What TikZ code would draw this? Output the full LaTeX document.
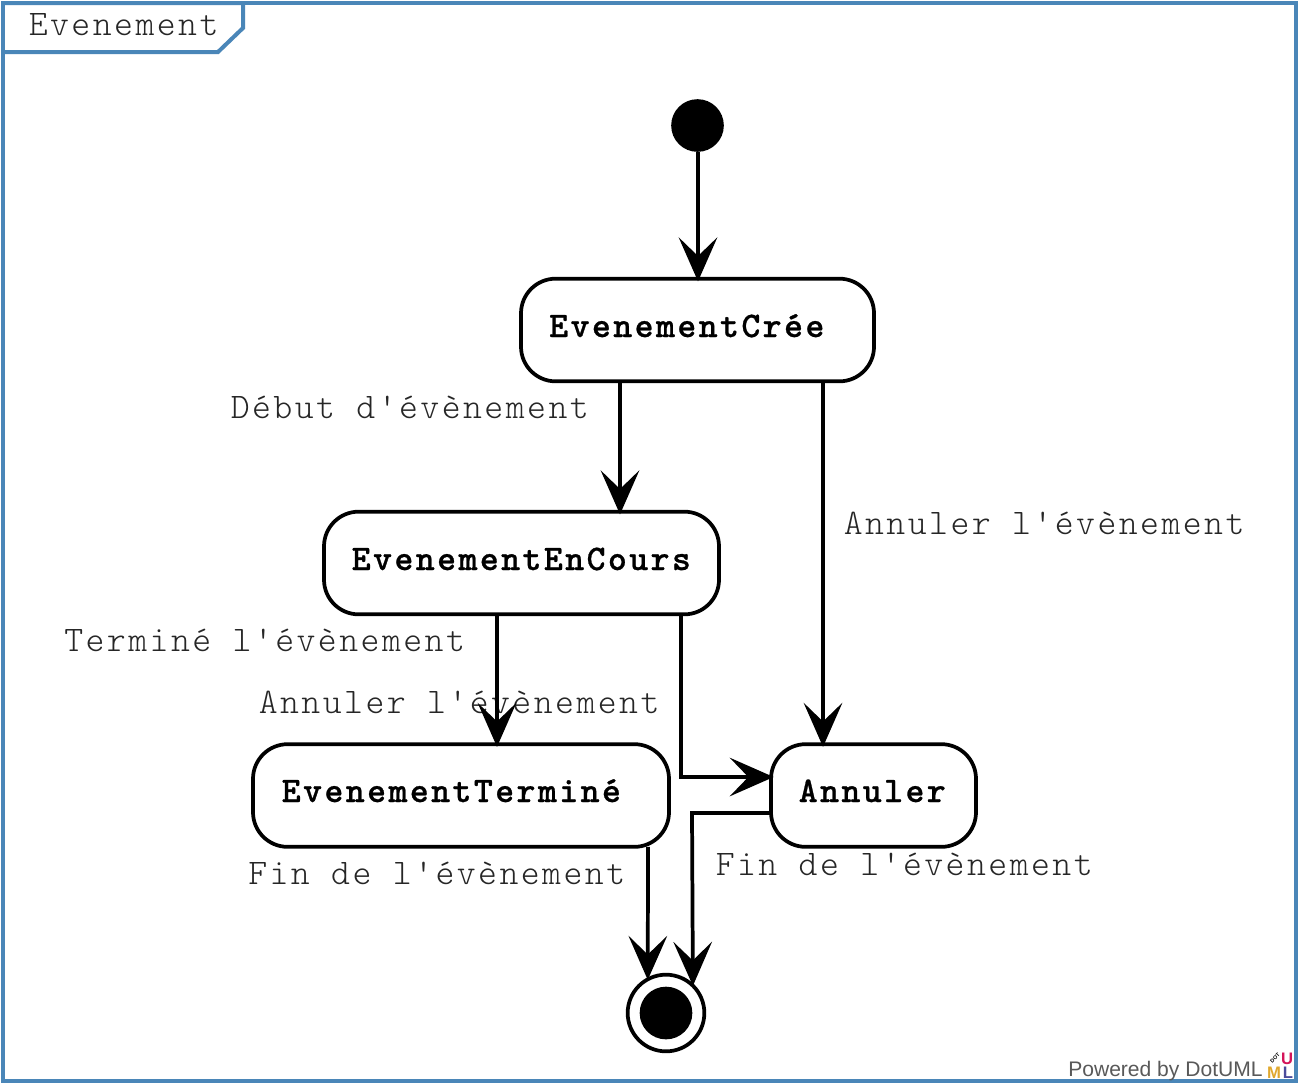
\documentclass[tikz,border=0pt]{standalone}
\usepackage{fontspec}
\setmainfont{Liberation Sans}
\setmonofont[LetterSpace=6.8,BoldFeatures={FakeBold=0.7}]{Latin Modern Mono Light}
\usetikzlibrary{arrows.meta}
\definecolor{frameblue}{HTML}{4A86B8}
\definecolor{logored}{HTML}{D4145A}
\definecolor{logogold}{HTML}{E0A82E}
\definecolor{logoblue}{HTML}{4B4B9B}

\begin{document}
\begin{tikzpicture}[
  x=0.75pt,y=-0.75pt,
  state/.style={draw,line width=2.8pt,rounded corners=26pt,inner sep=0pt,outer sep=0pt,minimum height=77pt},
  stxt/.style={anchor=base west,inner sep=0pt,font=\fontsize{27}{27}\ttfamily\bfseries},
  lab/.style={anchor=base west,inner sep=0pt,text=black!85,font=\fontsize{27}{27}\ttfamily},
  arr/.style={-{Stealth[length=33pt,width=29pt,inset=14pt,line width=2.2pt,sep=-2pt]},line width=2.8pt},
  frm/.style={draw=frameblue,line width=3pt},
  logo/.style={inner sep=0pt,font=\fontsize{12.5}{12.5}\bfseries\selectfont}
]
\useasboundingbox (0,0) rectangle (1298,1083);
\fill[white] (0,0) rectangle (1298,1083);
\draw[frm] (3,3) rectangle (1296,1081);
\draw[frm] (3,3) -- (243,3) -- (243,28) -- (218,52) -- (3,52);
\node[lab] (title) at (28.5,35) {Evenement};

\node[lab] (lbegin) at (230.5,418) {Début d'évènement};
\node[lab] (lcancela) at (843.5,534) {Annuler l'évènement};
\node[lab] (lend) at (64,651) {Terminé l'évènement};
\node[lab] (lcancelb) at (258.5,713) {Annuler l'évènement};
\node[lab] (lfina) at (248,884) {Fin de l'évènement};
\node[lab] (lfinb) at (715.5,875) {Fin de l'évènement};

\node[circle,fill=black,inner sep=0pt,minimum size=39.5pt] (start) at (697.5,125.5) {};
\node[state,minimum width=264.75pt] (created) at (697.5,330) {};
\node[state,minimum width=296.25pt] (running) at (521.5,563) {};
\node[state,minimum width=312pt] (done) at (461,795.5) {};
\node[state,minimum width=153.75pt] (cancel) at (873.5,795.5) {};
\node[circle,draw,line width=2.8pt,fill=white,inner sep=0pt,minimum size=57.5pt] (final) at (666,1013) {};
\node[circle,fill=black,inner sep=0pt,minimum size=39.5pt] (finaldot) at (666,1013) {};

\node[stxt] (tcreated) at (549,337) {EvenementCrée};
\node[stxt] (trunning) at (351.5,570) {EvenementEnCours};
\node[stxt] (tdone) at (281.5,802) {EvenementTerminé};
\node[stxt] (tcancel) at (798.5,802) {Annuler};

\draw[arr] (start.south -| 698,0) -- (created.north -| 698,0);
\draw[arr] (created.south -| 620,0) -- (running.north -| 620,0);
\draw[arr] (created.south -| 823,0) -- (cancel.north -| 823,0);
\draw[arr] (running.south -| 497,0) -- (done.north -| 497,0);
\draw[arr] (running.south -| 681,0) -- (681,777) -- (cancel.west |- 0,777);
\draw[arr] (cancel.west |- 0,813) -- (692,813) -- (final.48);
\draw[arr] (done.south -| 648,0) -- (final.117.5);

\node[anchor=base west,inner sep=0pt,text=black!65,font=\fontsize{15.8}{15.8}\selectfont] (powered) at (1068,1076) {Powered by DotUML};
\node[inner sep=0pt,rotate=45,font=\fontsize{4}{4}\bfseries\selectfont] (logod) at (1275,1058) {DOT};
\node[logo,text=logored] (logou) at (1287,1059) {U};
\node[logo,text=logogold] (logom) at (1274,1073) {M};
\node[logo,text=logoblue] (logol) at (1288,1073) {L};
\end{tikzpicture}
\end{document}
